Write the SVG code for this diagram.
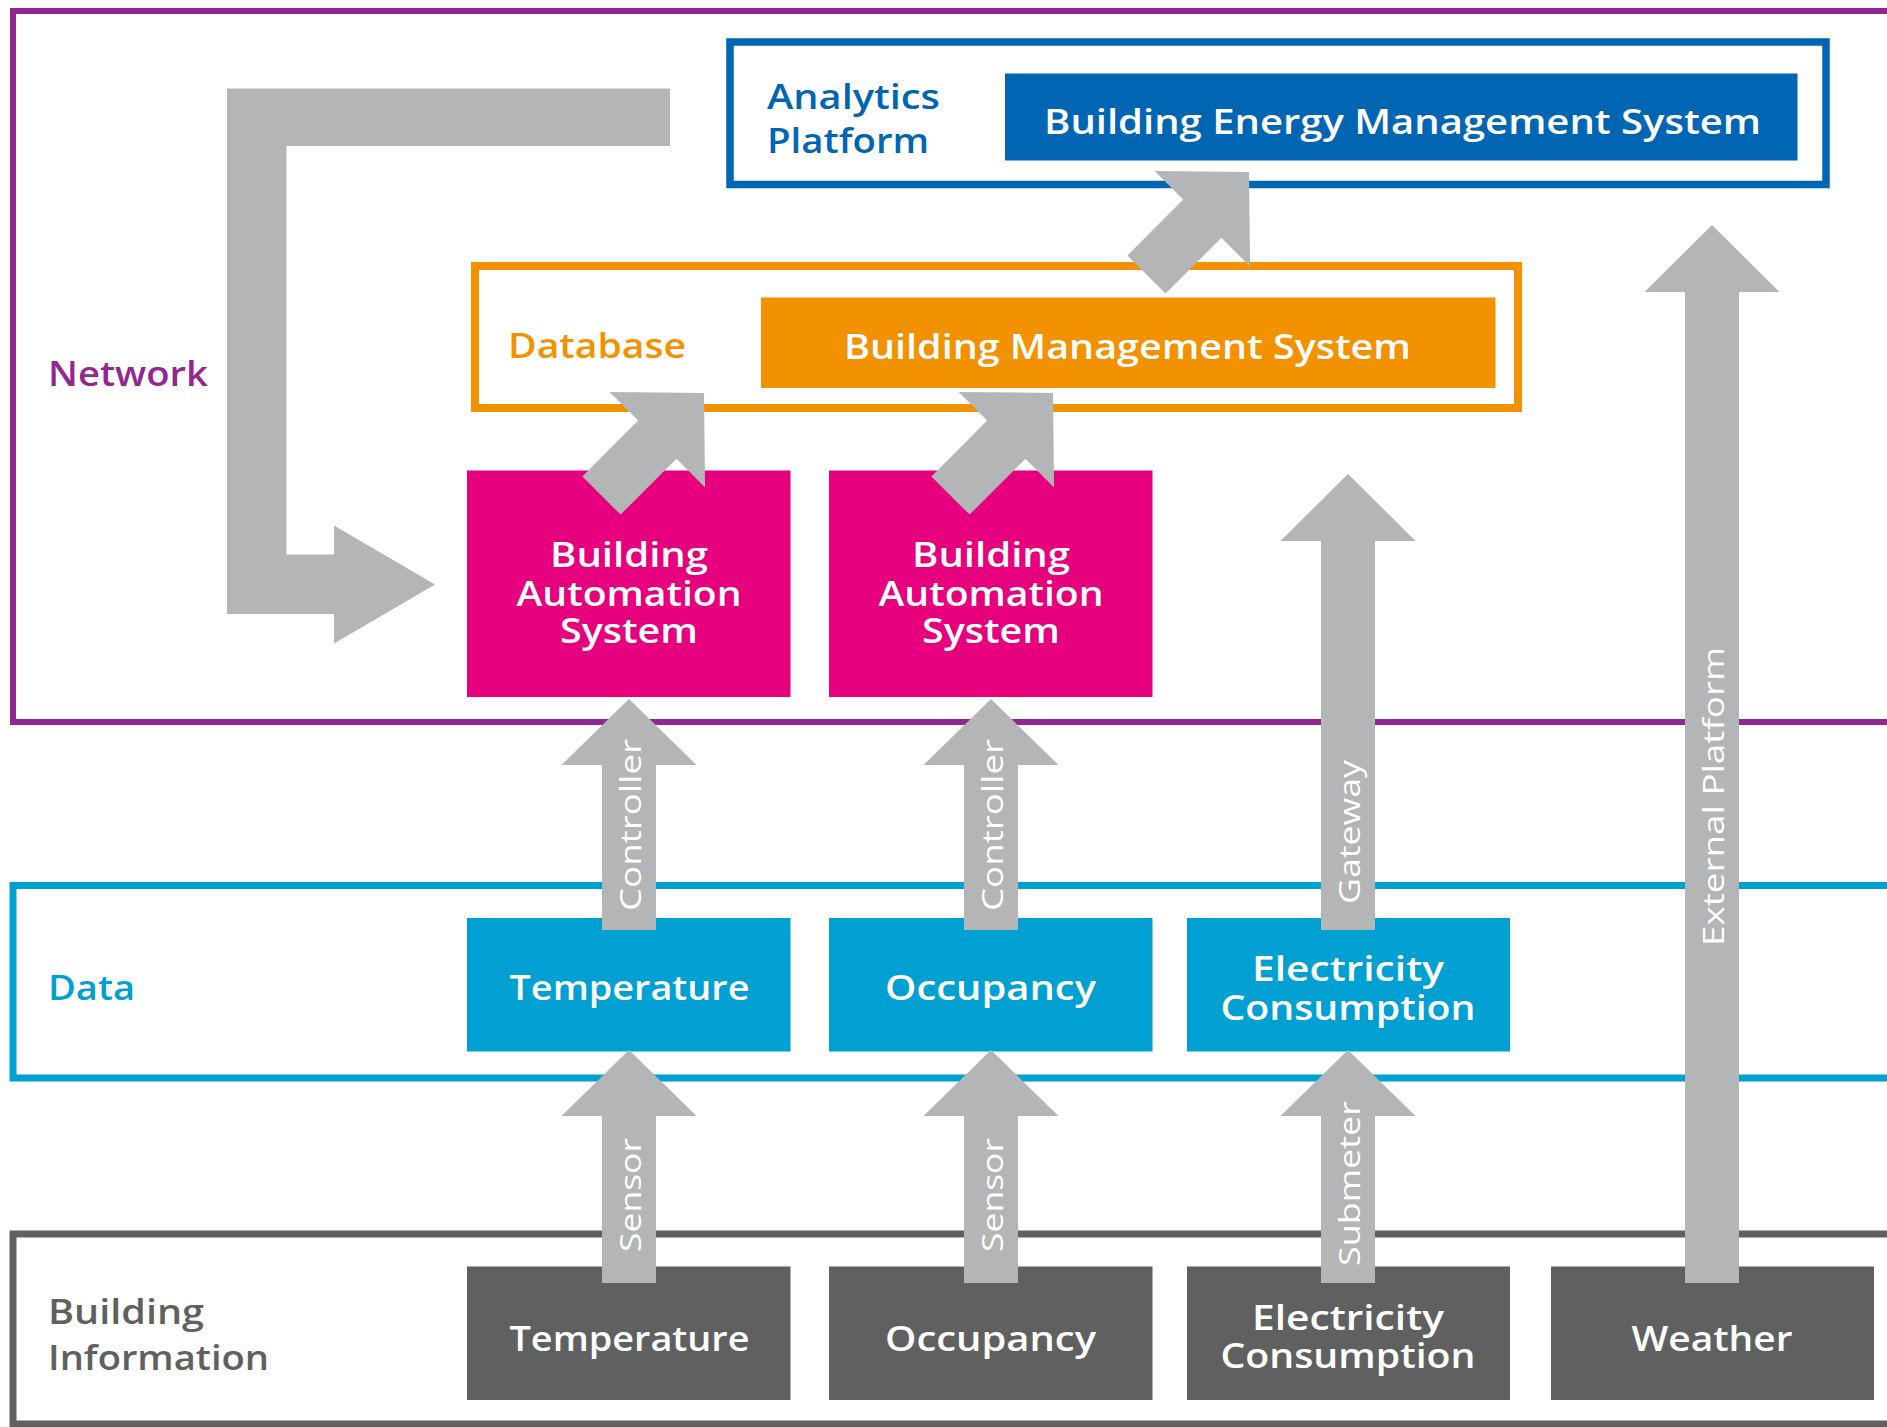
<svg xmlns="http://www.w3.org/2000/svg" width="1887" height="1427" viewBox="0 0 1887 1427">
<style>
text{font-family:"Open Sans","Liberation Sans",sans-serif;font-weight:600;font-size:34px}
.w{fill:#fff;text-anchor:middle}
.rl{fill:#fff;font-weight:400;font-size:30px;text-anchor:middle}
.arr{fill:#b3b5b7}
.frame{fill:none}
</style>
<defs>
<polygon id="diag" points="0,0 67.5,66 27,66 27,145 -27,145 -27,66 -67.5,66"/>
</defs>
<rect width="1887" height="1427" fill="#fff"/>

<g id="frames">
<g id="network-layer">
<rect class="frame" x="13" y="11" width="1900" height="711" stroke="#92278f" stroke-width="6"/>
<text x="48" y="386" fill="#92278f" textLength="160" lengthAdjust="spacingAndGlyphs">Network</text>
</g>
<g id="data-layer">
<rect class="frame" x="13" y="885.5" width="1900" height="192.5" stroke="#00a0d2" stroke-width="7"/>
<text x="48" y="1000" fill="#00a0d2" textLength="87" lengthAdjust="spacingAndGlyphs">Data</text>
</g>
<g id="building-info-layer">
<rect class="frame" x="13" y="1234" width="1900" height="190" stroke="#5f6161" stroke-width="7"/>
<text x="48" y="1324" fill="#5f6161" textLength="156" lengthAdjust="spacingAndGlyphs">Building</text>
<text x="48" y="1370" fill="#5f6161" textLength="221" lengthAdjust="spacingAndGlyphs">Information</text>
</g>
<g id="analytics-platform">
<rect class="frame" x="730" y="42" width="1096" height="142.5" stroke="#0066b3" stroke-width="7.5"/>
<text x="767" y="109" fill="#0066b3" textLength="173" lengthAdjust="spacingAndGlyphs">Analytics</text>
<text x="767" y="153" fill="#0066b3" textLength="162" lengthAdjust="spacingAndGlyphs">Platform</text>
</g>
<g id="database">
<rect class="frame" x="475" y="266" width="1043" height="142" stroke="#f39200" stroke-width="8"/>
<text x="508" y="358" fill="#f39200" textLength="178" lengthAdjust="spacingAndGlyphs">Database</text>
</g>
</g>

<g id="bems">
<rect x="1005" y="73.5" width="792.5" height="87" fill="#0066b3"/>
<text class="w" x="1402.5" y="134" textLength="717" lengthAdjust="spacingAndGlyphs">Building Energy Management System</text>
</g>
<g id="bms">
<rect x="761" y="297.5" width="734.5" height="90.5" fill="#f39200"/>
<text class="w" x="1127.5" y="359" textLength="567" lengthAdjust="spacingAndGlyphs">Building Management System</text>
</g>
<g id="bas1">
<rect x="467" y="470.5" width="323.5" height="226.5" fill="#e6007e"/>
<text class="w" x="629" y="567" textLength="158" lengthAdjust="spacingAndGlyphs">Building</text>
<text class="w" x="629" y="606" textLength="225" lengthAdjust="spacingAndGlyphs">Automation</text>
<text class="w" x="629" y="643" textLength="138" lengthAdjust="spacingAndGlyphs">System</text>
</g>
<g id="bas2">
<rect x="829" y="470.5" width="323.5" height="226.5" fill="#e6007e"/>
<text class="w" x="991" y="567" textLength="158" lengthAdjust="spacingAndGlyphs">Building</text>
<text class="w" x="991" y="606" textLength="225" lengthAdjust="spacingAndGlyphs">Automation</text>
<text class="w" x="991" y="643" textLength="138" lengthAdjust="spacingAndGlyphs">System</text>
</g>
<g id="data-temperature">
<rect x="467" y="918" width="323.5" height="133.5" fill="#00a0d2"/>
<text class="w" x="629.5" y="1000" textLength="240" lengthAdjust="spacingAndGlyphs">Temperature</text>
</g>
<g id="data-occupancy">
<rect x="829" y="918" width="323.5" height="133.5" fill="#00a0d2"/>
<text class="w" x="990.5" y="1000" textLength="211" lengthAdjust="spacingAndGlyphs">Occupancy</text>
</g>
<g id="data-electricity">
<rect x="1187" y="918" width="323" height="133.5" fill="#00a0d2"/>
<text class="w" x="1348" y="981" textLength="192" lengthAdjust="spacingAndGlyphs">Electricity</text>
<text class="w" x="1348" y="1020" textLength="255" lengthAdjust="spacingAndGlyphs">Consumption</text>
</g>
<g id="info-temperature">
<rect x="467" y="1266.5" width="323.5" height="133.5" fill="#5f6161"/>
<text class="w" x="629.5" y="1351" textLength="240" lengthAdjust="spacingAndGlyphs">Temperature</text>
</g>
<g id="info-occupancy">
<rect x="829" y="1266.5" width="323.5" height="133.5" fill="#5f6161"/>
<text class="w" x="990.5" y="1351" textLength="211" lengthAdjust="spacingAndGlyphs">Occupancy</text>
</g>
<g id="info-electricity">
<rect x="1187" y="1266.5" width="323" height="133.5" fill="#5f6161"/>
<text class="w" x="1348" y="1330" textLength="192" lengthAdjust="spacingAndGlyphs">Electricity</text>
<text class="w" x="1348" y="1368" textLength="255" lengthAdjust="spacingAndGlyphs">Consumption</text>
</g>
<g id="info-weather">
<rect x="1551" y="1266.5" width="323" height="133.5" fill="#5f6161"/>
<text class="w" x="1712" y="1351" textLength="161" lengthAdjust="spacingAndGlyphs">Weather</text>
</g>

<g id="connectors" class="arr">
<polygon points="670,88.5 227,88.5 227,614 334,614 334,643.5 435,584.5 334,525.5 334,554.5 286.5,554.5 286.5,146 670,146"/>
<use href="#diag" transform="translate(704,393) rotate(45)"/>
<use href="#diag" transform="translate(1053,393) rotate(45)"/>
<use href="#diag" transform="translate(1249,172) rotate(45)"/>
<polygon points="629,699 696.5,765 656,765 656,930 602,930 602,765 561.5,765"/>
<polygon points="991,699 1058.5,765 1018,765 1018,930 964,930 964,765 923.5,765"/>
<polygon points="1348,474 1415.5,541 1375,541 1375,930 1321,930 1321,541 1280.5,541"/>
<polygon points="629,1050 696.5,1116 656,1116 656,1283 602,1283 602,1116 561.5,1116"/>
<polygon points="991,1050 1058.5,1116 1018,1116 1018,1283 964,1283 964,1116 923.5,1116"/>
<polygon points="1348,1050 1415.5,1116 1375,1116 1375,1283 1321,1283 1321,1116 1280.5,1116"/>
<polygon points="1712,225 1779.5,292 1739,292 1739,1283 1685,1283 1685,292 1644.5,292"/>
<text class="rl" transform="translate(641,825) rotate(-90)" textLength="172" lengthAdjust="spacingAndGlyphs">Controller</text>
<text class="rl" transform="translate(1003,825) rotate(-90)" textLength="172" lengthAdjust="spacingAndGlyphs">Controller</text>
<text class="rl" transform="translate(1360,832) rotate(-90)" textLength="144" lengthAdjust="spacingAndGlyphs">Gateway</text>
<text class="rl" transform="translate(641,1195) rotate(-90)" textLength="114" lengthAdjust="spacingAndGlyphs">Sensor</text>
<text class="rl" transform="translate(1003,1195) rotate(-90)" textLength="114" lengthAdjust="spacingAndGlyphs">Sensor</text>
<text class="rl" transform="translate(1360,1183.5) rotate(-90)" textLength="165" lengthAdjust="spacingAndGlyphs">Submeter</text>
<text class="rl" transform="translate(1724,796.5) rotate(-90)" textLength="299" lengthAdjust="spacingAndGlyphs">External Platform</text>
</g>
</svg>
